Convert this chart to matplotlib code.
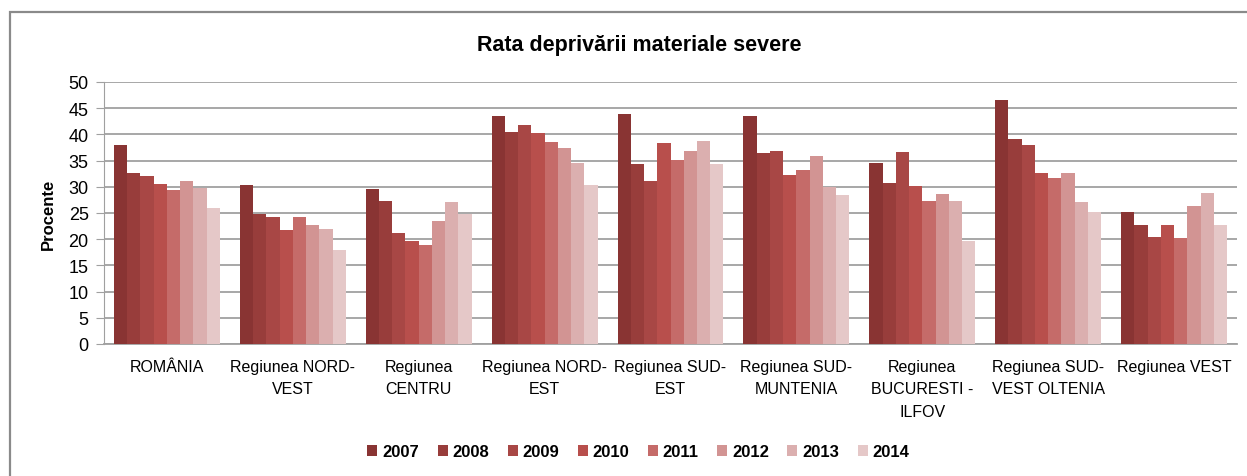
import numpy as np
import matplotlib
matplotlib.use("Agg")
import matplotlib.pyplot as plt
from matplotlib.patches import Rectangle

plt.rcParams['font.family'] = ['Liberation Sans', 'DejaVu Sans']

# date (procente)
regiuni = ["ROMÂNIA", "Regiunea NORD-\nVEST", "Regiunea\nCENTRU", "Regiunea NORD-\nEST",
           "Regiunea SUD-\nEST", "Regiunea SUD-\nMUNTENIA", "Regiunea\nBUCURESTI -\nILFOV",
           "Regiunea SUD-\nVEST OLTENIA", "Regiunea VEST"]
ani = ["2007", "2008", "2009", "2010", "2011", "2012", "2013", "2014"]

v2007 = [38.0, 30.3, 29.6, 43.5, 43.9, 43.5, 34.5, 46.6, 25.2]
v2008 = [32.6, 24.9, 27.3, 40.5, 34.3, 36.4, 30.7, 39.1, 22.7]
v2009 = [32.0, 24.2, 21.1, 41.8, 31.1, 36.8, 36.6, 38.0, 20.5]
v2010 = [30.5, 21.7, 19.6, 40.3, 38.3, 32.2, 30.1, 32.6, 22.7]
v2011 = [29.4, 24.2, 18.8, 38.6, 35.1, 33.2, 27.3, 31.7, 20.3]
v2012 = [31.1, 22.7, 23.4, 37.4, 36.8, 35.9, 28.6, 32.6, 26.3]
v2013 = [29.7, 21.9, 27.1, 34.5, 38.8, 30.0, 27.3, 27.1, 28.8]
v2014 = [25.9, 17.9, 24.9, 30.3, 34.3, 28.4, 19.7, 25.2, 22.7]
serii = [v2007, v2008, v2009, v2010, v2011, v2012, v2013, v2014]

culori = ["#893433", "#983d3b", "#a84745", "#b84f4c", "#c56b69", "#d29493", "#dbafaf", "#e5c8c8"]

fig = plt.figure(figsize=(12.47, 4.77), dpi=100)
ax = fig.add_axes([104/1247, 1 - 345/477, (1237 - 104)/1247, (345 - 83)/477])

x = np.arange(len(regiuni))
w = 0.842 / len(ani)
for i, (an, vals) in enumerate(zip(ani, serii)):
    ax.bar(x - 0.421 + w*(i + 0.5), vals, width=w, color=culori[i], label=an, zorder=3)

ax.set_xlim(-0.5, len(regiuni) - 0.5)
ax.set_ylim(0, 50)
ax.set_yticks(range(0, 51, 5))
ax.yaxis.grid(True, color="#a0a0a0", linewidth=1.3, zorder=0)
for s in ["top", "right"]:
    ax.spines[s].set_visible(False)
ax.spines["left"].set_color("#a0a0a0")
ax.spines["bottom"].set_color("#a0a0a0")
ax.spines["bottom"].set_linewidth(1.3)
ax.tick_params(axis="y", length=6, color="#a0a0a0", labelsize=13, pad=5)
ax.tick_params(axis="x", length=0, labelsize=11.5, pad=11)
ax.set_xticks(x)
ax.set_xticklabels(regiuni, linespacing=1.6)
ax.set_ylabel("Procente", fontsize=12, fontweight="bold", labelpad=9)

fig.text(0.513, 1 - 45/477, "Rata deprivării materiale severe", ha="center", va="center",
         fontsize=15.5, fontweight="bold")

leg = fig.legend(loc="center", bbox_to_anchor=(0.512, 1 - 453/477), ncol=8, frameon=False,
                 prop={"size": 12, "weight": "bold"}, handlelength=0.6, handleheight=0.6,
                 handletextpad=0.3, columnspacing=1.1)

fig.add_artist(Rectangle((10/1247, -0.1), 1.5, 1.1 - 13/477, transform=fig.transFigure,
                         fill=False, edgecolor="#8a8a8a", linewidth=1.6))

fig.savefig("out.png", dpi=100)
